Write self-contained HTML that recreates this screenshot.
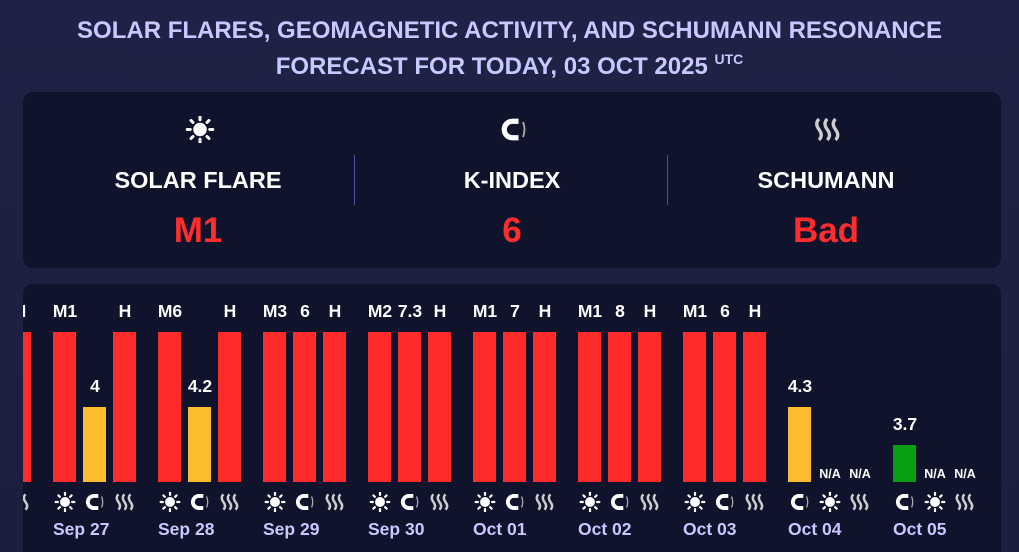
<!DOCTYPE html>
<html><head><meta charset="utf-8"><style>
*{margin:0;padding:0;box-sizing:border-box}
html,body{width:1019px;height:552px;overflow:hidden}
body{background:linear-gradient(180deg,#1f2246,#1b1e3e);font-family:"Liberation Sans",sans-serif;position:relative}
.title{position:absolute;left:0;width:1019px;top:16px;text-align:center;color:#c5c9ff;font-weight:bold;font-size:24px;line-height:29px;white-space:nowrap}
.title sup{font-size:14px;vertical-align:10px}
.top{position:absolute;left:23px;top:92px;width:978px;height:176px;background:#10132c;border-radius:10px}
.col{position:absolute;width:300px;text-align:center;color:#fff}
.lab{position:absolute;top:75px;font-weight:bold;font-size:23.5px}
.val{position:absolute;top:119px;font-weight:bold;font-size:35px;color:#ff2d2d}
.div{position:absolute;top:63px;width:1px;height:50px;background:#4a4f9a}
.bot{position:absolute;left:23px;top:284px;width:978px;height:268px;background:#10132c;border-radius:10px 10px 0 0;overflow:hidden}
.in{position:absolute;left:-23px;top:-284px;width:1019px;height:552px}
.b{position:absolute;width:23px}
.r{background:#ff2b2b;top:332px;height:150px}
.y{background:#fbbc2d;top:407px;height:75px}
.g{background:#0a9e12;top:445px;height:37px}
.t{position:absolute;width:50px;text-align:center;color:#fff;font-weight:bold;font-size:17.5px;line-height:20px;top:301px}
.na{position:absolute;width:50px;text-align:center;color:#fff;font-weight:bold;font-size:12.5px;top:467px}
.d{position:absolute;top:519px;color:#c5c9ff;font-weight:bold;font-size:17.5px;line-height:20px}
.ic{position:absolute;top:492px;width:22px;height:20px}
</style></head><body>
<svg width="0" height="0" style="position:absolute">
<defs>
<g id="sun"><circle cx="10" cy="9" r="4.5" fill="#fff"/><g stroke="#fff" stroke-width="2" stroke-linecap="round"><line x1="10" y1="0.5" x2="10" y2="2.5"/><line x1="10" y1="15.5" x2="10" y2="17.5"/><line x1="1.5" y1="9" x2="3.5" y2="9"/><line x1="16.5" y1="9" x2="18.5" y2="9"/><line x1="4" y1="3" x2="5.3" y2="4.3"/><line x1="14.7" y1="13.7" x2="16" y2="15"/><line x1="16" y1="3" x2="14.7" y2="4.3"/><line x1="4" y1="15" x2="5.3" y2="13.7"/></g></g>
<g id="mag"><path d="M13 3.5 H9 A5.5 5.5 0 0 0 9 14.5 H13" fill="none" stroke="#fff" stroke-width="3.5"/><path d="M16 4 Q18 9 16 14" fill="none" stroke="#aaa" stroke-width="1.2"/></g>
<g id="wav" fill="none" stroke="#ccc" stroke-width="2.2"><path d="M4 2 Q1 5 4 9 Q7 13 4 16"/><path d="M9.5 2 Q6.5 5 9.5 9 Q12.5 13 9.5 16"/><path d="M15 2 Q12 5 15 9 Q18 13 15 16"/></g>
</defs></svg>
<div class="title">SOLAR FLARES, GEOMAGNETIC ACTIVITY, AND SCHUMANN RESONANCE<br>FORECAST FOR TODAY, 03 OCT 2025 <sup>UTC</sup></div>
<div class="top">
<svg style="position:absolute;left:162px;top:24px" width="30" height="27" viewBox="0 0 20 18"><use href="#sun"/></svg>
<svg style="position:absolute;left:476px;top:24px" width="30" height="27" viewBox="0 0 20 18"><use href="#mag"/></svg>
<svg style="position:absolute;left:790px;top:24px" width="30" height="27" viewBox="0 0 20 18"><use href="#wav"/></svg>
<div class="col" style="left:25px"><div class="lab" style="width:300px">SOLAR FLARE</div><div class="val" style="width:300px">M1</div></div>
<div class="col" style="left:339px"><div class="lab" style="width:300px">K-INDEX</div><div class="val" style="width:300px">6</div></div>
<div class="col" style="left:653px"><div class="lab" style="width:300px">SCHUMANN</div><div class="val" style="width:300px">Bad</div></div>
<div class="div" style="left:331px"></div><div class="div" style="left:644px"></div>
</div>
<div class="bot"><div class="in">
<div class="b r" style="left:8px"></div><div class="t" style="left:-5px">H</div>
<svg class="ic" style="left:9px" viewBox="0 0 20 18"><use href="#wav"/></svg>
<!-- Sep 27 -->
<div class="b r" style="left:53px"></div><div class="t" style="left:40px">M1</div>
<div class="b y" style="left:83px"></div><div class="t" style="left:70px;top:376px">4</div>
<div class="b r" style="left:113px"></div><div class="t" style="left:100px">H</div>
<svg class="ic" style="left:54px" viewBox="0 0 20 18"><use href="#sun"/></svg><svg class="ic" style="left:84px" viewBox="0 0 20 18"><use href="#mag"/></svg><svg class="ic" style="left:114px" viewBox="0 0 20 18"><use href="#wav"/></svg>
<div class="d" style="left:53px">Sep 27</div>
<!-- Sep 28 -->
<div class="b r" style="left:158px"></div><div class="t" style="left:145px">M6</div>
<div class="b y" style="left:188px"></div><div class="t" style="left:175px;top:376px">4.2</div>
<div class="b r" style="left:218px"></div><div class="t" style="left:205px">H</div>
<svg class="ic" style="left:159px" viewBox="0 0 20 18"><use href="#sun"/></svg><svg class="ic" style="left:189px" viewBox="0 0 20 18"><use href="#mag"/></svg><svg class="ic" style="left:219px" viewBox="0 0 20 18"><use href="#wav"/></svg>
<div class="d" style="left:158px">Sep 28</div>
<!-- Sep 29 -->
<div class="b r" style="left:263px"></div><div class="t" style="left:250px">M3</div>
<div class="b r" style="left:293px"></div><div class="t" style="left:280px">6</div>
<div class="b r" style="left:323px"></div><div class="t" style="left:310px">H</div>
<svg class="ic" style="left:264px" viewBox="0 0 20 18"><use href="#sun"/></svg><svg class="ic" style="left:294px" viewBox="0 0 20 18"><use href="#mag"/></svg><svg class="ic" style="left:324px" viewBox="0 0 20 18"><use href="#wav"/></svg>
<div class="d" style="left:263px">Sep 29</div>
<!-- Sep 30 -->
<div class="b r" style="left:368px"></div><div class="t" style="left:355px">M2</div>
<div class="b r" style="left:398px"></div><div class="t" style="left:385px">7.3</div>
<div class="b r" style="left:428px"></div><div class="t" style="left:415px">H</div>
<svg class="ic" style="left:369px" viewBox="0 0 20 18"><use href="#sun"/></svg><svg class="ic" style="left:399px" viewBox="0 0 20 18"><use href="#mag"/></svg><svg class="ic" style="left:429px" viewBox="0 0 20 18"><use href="#wav"/></svg>
<div class="d" style="left:368px">Sep 30</div>
<!-- Oct 01 -->
<div class="b r" style="left:473px"></div><div class="t" style="left:460px">M1</div>
<div class="b r" style="left:503px"></div><div class="t" style="left:490px">7</div>
<div class="b r" style="left:533px"></div><div class="t" style="left:520px">H</div>
<svg class="ic" style="left:474px" viewBox="0 0 20 18"><use href="#sun"/></svg><svg class="ic" style="left:504px" viewBox="0 0 20 18"><use href="#mag"/></svg><svg class="ic" style="left:534px" viewBox="0 0 20 18"><use href="#wav"/></svg>
<div class="d" style="left:473px">Oct 01</div>
<!-- Oct 02 -->
<div class="b r" style="left:578px"></div><div class="t" style="left:565px">M1</div>
<div class="b r" style="left:608px"></div><div class="t" style="left:595px">8</div>
<div class="b r" style="left:638px"></div><div class="t" style="left:625px">H</div>
<svg class="ic" style="left:579px" viewBox="0 0 20 18"><use href="#sun"/></svg><svg class="ic" style="left:609px" viewBox="0 0 20 18"><use href="#mag"/></svg><svg class="ic" style="left:639px" viewBox="0 0 20 18"><use href="#wav"/></svg>
<div class="d" style="left:578px">Oct 02</div>
<!-- Oct 03 -->
<div class="b r" style="left:683px"></div><div class="t" style="left:670px">M1</div>
<div class="b r" style="left:713px"></div><div class="t" style="left:700px">6</div>
<div class="b r" style="left:743px"></div><div class="t" style="left:730px">H</div>
<svg class="ic" style="left:684px" viewBox="0 0 20 18"><use href="#sun"/></svg><svg class="ic" style="left:714px" viewBox="0 0 20 18"><use href="#mag"/></svg><svg class="ic" style="left:744px" viewBox="0 0 20 18"><use href="#wav"/></svg>
<div class="d" style="left:683px">Oct 03</div>
<!-- Oct 04 -->
<div class="b y" style="left:788px"></div><div class="t" style="left:775px;top:376px">4.3</div>
<div class="na" style="left:805px">N/A</div><div class="na" style="left:835px">N/A</div>
<svg class="ic" style="left:789px" viewBox="0 0 20 18"><use href="#mag"/></svg><svg class="ic" style="left:819px" viewBox="0 0 20 18"><use href="#sun"/></svg><svg class="ic" style="left:849px" viewBox="0 0 20 18"><use href="#wav"/></svg>
<div class="d" style="left:788px">Oct 04</div>
<!-- Oct 05 -->
<div class="b g" style="left:893px"></div><div class="t" style="left:880px;top:414px">3.7</div>
<div class="na" style="left:910px">N/A</div><div class="na" style="left:940px">N/A</div>
<svg class="ic" style="left:894px" viewBox="0 0 20 18"><use href="#mag"/></svg><svg class="ic" style="left:924px" viewBox="0 0 20 18"><use href="#sun"/></svg><svg class="ic" style="left:954px" viewBox="0 0 20 18"><use href="#wav"/></svg>
<div class="d" style="left:893px">Oct 05</div>
</div></div>
</body></html>
